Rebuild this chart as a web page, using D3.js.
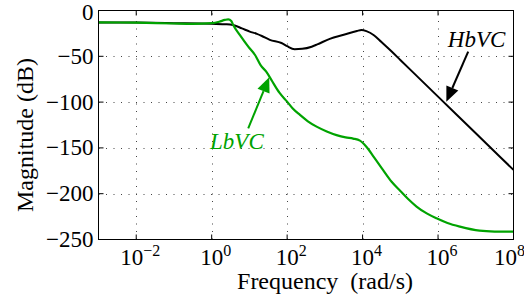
<!DOCTYPE html>
<html><head><meta charset="utf-8">
<script src="https://cdn.jsdelivr.net/npm/d3@7"></script>
<style>
html,body{margin:0;padding:0;background:#fff;}
svg{display:block;}
text{font-family:"Liberation Serif","DejaVu Serif",serif;fill:#000;}
</style></head>
<body>
<svg id="chart" width="524" height="301"></svg>
<script>
// ---- data ----
const hbvcFreq = [0.001,0.01,0.1,1,2.51,3.63,6.31,10.2,15.8,21.4,34.7,70.8,100,158,251,447,631,1349,3162,7079,9333,12589,19953,31623,56234,1e5,1e6,1e7,1e8];
const hbvcMag  = [-13,-13.2,-13.8,-14.5,-15,-15.8,-19.5,-23,-25.5,-27.8,-32,-35.5,-39,-42.2,-41.8,-39.5,-37,-31,-26.5,-22.3,-21.3,-22.5,-27,-34.5,-44,-54,-94,-134,-174];
const lbvcFreq = [0.001,0.01,0.1,0.316,1,1.58,2.24,2.75,3.31,3.72,5.62,9.33,14.1,20,28.2,39.8,63.1,100,141,219,355,603,1122,2042,3548,5623,8511,12589,19953,34674,58884,1e5,158489,269153,501187,912011,1778279,3801894,12589254,31622777,1e8];
const lbvcMag  = [-13,-13.3,-14.2,-14.5,-13.8,-12.3,-10.3,-9.6,-11.5,-15.8,-27,-39.5,-48.6,-60,-67,-77,-90,-99.5,-107,-114,-121,-126.8,-132,-136,-138.5,-139.8,-142,-148.7,-160,-174,-187,-197,-205.5,-214,-221.5,-226.9,-232,-236,-240.4,-241.3,-241.5];
const xTickExp = [-2,0,2,4,6,8];
const yTicks = [0,-50,-100,-150,-200,-250];
const xDomain = [1e-3,1e8];
const yDomain = [-250,0];
// annotations: [label, text freq, text dB, arrow start freq, start dB, tip freq, tip dB]
const annHb = ["HbVC", 1.05e7, -39.5, 6.3e6, -45, 1.66e6, -99.6];
const annLb = ["LbVC", 4.67, -151.5, 9.3, -128.6, 33.5, -72.9];

// ---- layout ----
const L = 98.5, R = 513.5, T = 10.5, B = 239.5;
const svg = d3.select("#chart");
const x = d3.scaleLog().domain(xDomain).range([L, R]);
const y = d3.scaleLinear().domain(yDomain).range([B, T]);
const green = "#00a300";

// grid
const grid = svg.append("g").attr("stroke","#444").attr("stroke-width",1).attr("stroke-dasharray","1,6.5");
xTickExp.filter(e=>e>-3 && e<8).forEach(e=>{
  const px = Math.round(x(Math.pow(10,e)))+0.5;
  grid.append("line").attr("x1",px).attr("x2",px).attr("y1",B).attr("y2",T);
});
yTicks.filter(v=>v>-250 && v<0).forEach(v=>{
  const py = Math.round(y(v))+0.5;
  grid.append("line").attr("x1",L).attr("x2",R).attr("y1",py).attr("y2",py);
});

// lines
const line = d3.line().x(d=>x(d[0])).y(d=>y(d[1])).curve(d3.curveMonotoneX);
svg.append("path").datum(d3.zip(hbvcFreq,hbvcMag)).attr("d",line)
  .attr("fill","none").attr("stroke","#000").attr("stroke-width",2);
svg.append("path").datum(d3.zip(lbvcFreq,lbvcMag)).attr("d",line)
  .attr("fill","none").attr("stroke",green).attr("stroke-width",2.2);

// axes box and ticks
const axG = svg.append("g").attr("stroke","#000").attr("stroke-width",1).attr("fill","none");
axG.append("rect").attr("x",L).attr("y",T).attr("width",R-L).attr("height",B-T);
const tl = 5;
xTickExp.forEach(e=>{
  const px = x(Math.pow(10,e));
  axG.append("line").attr("x1",px).attr("x2",px).attr("y1",B).attr("y2",B-tl);
  axG.append("line").attr("x1",px).attr("x2",px).attr("y1",T).attr("y2",T+tl);
});
yTicks.forEach(v=>{
  const py = y(v);
  axG.append("line").attr("x1",L).attr("x2",L+tl).attr("y1",py).attr("y2",py);
  axG.append("line").attr("x1",R).attr("x2",R-tl).attr("y1",py).attr("y2",py);
});

// tick labels
yTicks.forEach(v=>{
  svg.append("text").attr("x",L-5).attr("y",y(v)).attr("dy", v===0 ? "0.42em" : "0.33em")
    .attr("text-anchor","end").attr("font-size",23)
    .text(v<0 ? "\u2212"+Math.abs(v) : String(v));
});
xTickExp.forEach((e,i)=>{
  const last = i === xTickExp.length-1;
  const t = svg.append("text").attr("x",x(Math.pow(10,e)) + (last ? -4 : 4)).attr("y",265)
    .attr("text-anchor","middle").attr("font-size",23);
  t.append("tspan").text("10");
  t.append("tspan").attr("dy",-9).attr("font-size",16).text(e<0 ? "\u2212"+Math.abs(e) : String(e));
});

// axis labels
svg.append("text").attr("x",325).attr("y",289).attr("text-anchor","middle")
  .attr("font-size",24).attr("xml:space","preserve").style("white-space","pre").text("Frequency  (rad/s)");
svg.append("text").attr("transform","translate(33,135) rotate(-90)").attr("text-anchor","middle")
  .attr("font-size",24).text("Magnitude (dB)");

// annotations
function annotate(a, color){
  const [lab, tf, td, sf, sd, ef, ed] = a;
  svg.append("text").attr("x",x(tf)).attr("y",y(td)).attr("text-anchor","middle")
    .attr("font-size",23).attr("font-style","italic").style("fill",color).text(lab);
  const x1=x(sf), y1=y(sd), x2=x(ef), y2=y(ed);
  const ang = Math.atan2(y2-y1, x2-x1);
  const hl = 15, hw = 6.5;
  const bx = x2 - hl*Math.cos(ang), by = y2 - hl*Math.sin(ang);
  svg.append("line").attr("x1",x1).attr("y1",y1).attr("x2",bx).attr("y2",by)
    .attr("stroke",color).attr("stroke-width",2);
  const px = -Math.sin(ang), py = Math.cos(ang);
  svg.append("path").attr("d",`M${x2},${y2}L${bx+px*hw},${by+py*hw}L${bx-px*hw},${by-py*hw}Z`)
    .attr("fill",color);
}
annotate(annHb, "#000");
annotate(annLb, green);
</script>
</body></html>
